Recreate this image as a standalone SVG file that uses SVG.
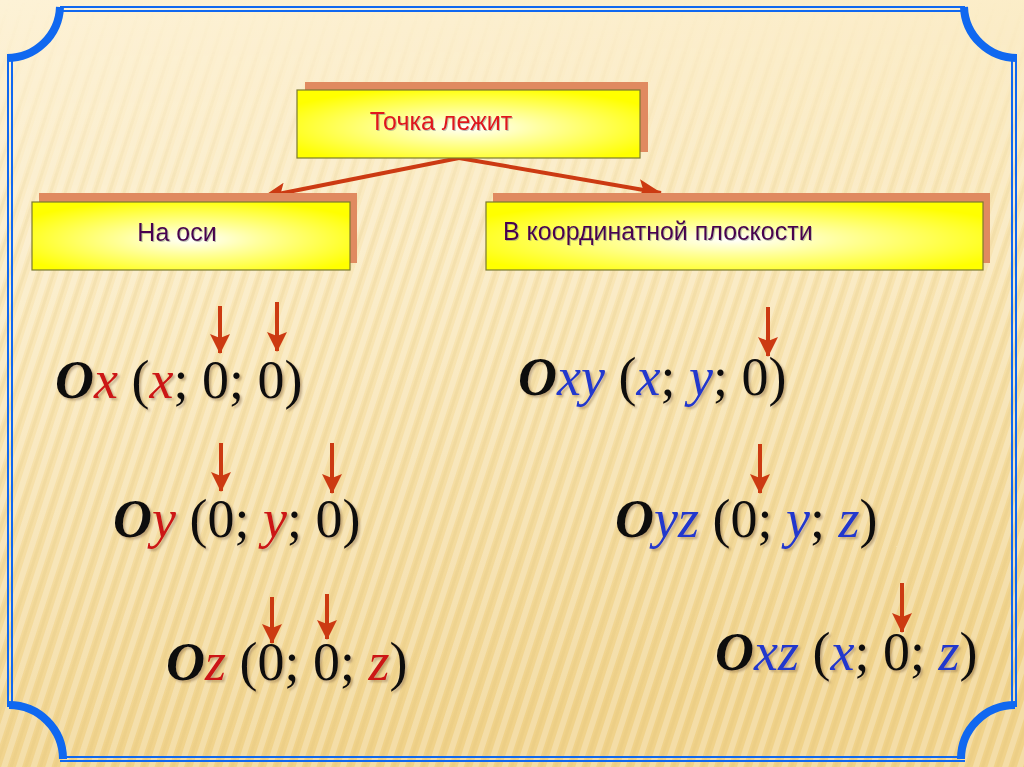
<svg xmlns="http://www.w3.org/2000/svg" width="1024" height="767" viewBox="0 0 1024 767">
<defs>
<style>
.box{stroke:#7a7a30;stroke-width:1.2}
.shadow{fill:#e08a60}
.lbl{font-family:"Liberation Sans",Arial,sans-serif;font-size:25px}
.f{font-family:"Liberation Serif","Times New Roman",serif;font-size:54px;fill:#111}
.O{font-style:italic;font-weight:bold}
.vr{font-style:italic;fill:#cc1515}
.vb{font-style:italic;fill:#2038cc}
.conn{stroke:#cc3a12;stroke-width:4;fill:none}
.dn{stroke:#cc3a12;stroke-width:4;fill:none}
.frame{stroke:#1068f0;fill:none}
</style>
<linearGradient id="bg" x1="0" y1="0" x2="0.2" y2="1">
<stop offset="0" stop-color="#fdf2d6"/>
<stop offset="0.45" stop-color="#f9e6b6"/>
<stop offset="1" stop-color="#f0d28a"/>
</linearGradient>
<linearGradient id="fade" x1="0" y1="0" x2="0" y2="1">
<stop offset="0" stop-color="#fff" stop-opacity="0"/>
<stop offset="0.3" stop-color="#fff" stop-opacity="1"/>
<stop offset="1" stop-color="#fff" stop-opacity="1"/>
</linearGradient>
<mask id="m"><rect width="1024" height="767" fill="url(#fade)"/></mask>
<pattern id="stripes" width="14" height="14" patternUnits="userSpaceOnUse" patternTransform="rotate(18)">
<rect width="6" height="14" fill="#ffffff" opacity="0.25"/>
<rect x="8" width="3" height="14" fill="#d8b870" opacity="0.15"/>
</pattern>
<radialGradient id="yel" cx="0.5" cy="0.55" r="0.6">
<stop offset="0" stop-color="#ffffff"/>
<stop offset="0.35" stop-color="#ffffa0"/>
<stop offset="1" stop-color="#ffff00"/>
</radialGradient>
<marker id="ah" markerUnits="userSpaceOnUse" markerWidth="24" markerHeight="20" refX="23" refY="10" orient="auto">
<path d="M0,0 L24,10 L0,20 L5,10 z" fill="#cc3a12"/>
</marker>
<marker id="ahs" markerUnits="userSpaceOnUse" markerWidth="20" markerHeight="20" refX="19" refY="10" orient="auto">
<path d="M0,0 L20,10 L0,20 L4,10 z" fill="#cc3a12"/>
</marker>
<filter id="ts" x="-5%" y="-10%" width="110%" height="130%">
<feDropShadow dx="2" dy="2" stdDeviation="1" flood-color="#806040" flood-opacity="0.45"/>
</filter>
<filter id="ls" x="-5%" y="-20%" width="110%" height="140%">
<feDropShadow dx="1" dy="1" stdDeviation="0.6" flood-color="#808080" flood-opacity="0.5"/>
</filter>
</defs>

<rect width="1024" height="767" fill="url(#bg)"/>
<rect width="1024" height="767" fill="url(#stripes)" mask="url(#m)"/>

<g id="frame">
<path class="frame" stroke-width="2" d="M60,7 H965 M60,11 H965"/>
<path class="frame" stroke-width="2" d="M60,757 H965 M60,761 H965"/>
<path class="frame" stroke-width="2" d="M8,58 V707 M12,58 V707"/>
<path class="frame" stroke-width="2" d="M1012,58 V707 M1016,58 V707"/>
<path class="frame" stroke-width="8" d="M60,7 A53,53 0 0 1 7,58"/>
<path class="frame" stroke-width="8" d="M964,7 A53,53 0 0 0 1017,58"/>
<path class="frame" stroke-width="8" d="M9,705 A54,54 0 0 1 63,759"/>
<path class="frame" stroke-width="8" d="M1015,705 A54,54 0 0 0 961,759"/>
</g>

<g id="connectors">
<line class="conn" x1="459" y1="158" x2="263" y2="197" marker-end="url(#ah)"/>
<line class="conn" x1="459" y1="158" x2="661" y2="193" marker-end="url(#ah)"/>
<line class="dn" x1="220" y1="306" x2="220" y2="353" marker-end="url(#ahs)"/>
<line class="dn" x1="277" y1="302" x2="277" y2="351" marker-end="url(#ahs)"/>
<line class="dn" x1="221" y1="443" x2="221" y2="491" marker-end="url(#ahs)"/>
<line class="dn" x1="332" y1="443" x2="332" y2="493" marker-end="url(#ahs)"/>
<line class="dn" x1="272" y1="597" x2="272" y2="643" marker-end="url(#ahs)"/>
<line class="dn" x1="327" y1="594" x2="327" y2="639" marker-end="url(#ahs)"/>
<line class="dn" x1="768" y1="307" x2="768" y2="356" marker-end="url(#ahs)"/>
<line class="dn" x1="760" y1="444" x2="760" y2="493" marker-end="url(#ahs)"/>
<line class="dn" x1="902" y1="583" x2="902" y2="632" marker-end="url(#ahs)"/>
</g>

<g id="node-top">
<rect class="shadow" x="305" y="82" width="343" height="70"/>
<rect class="box" x="297" y="90" width="343" height="68" fill="url(#yel)"/>
<text class="lbl" x="441" y="130" text-anchor="middle" fill="#e0141c" filter="url(#ls)">Точка лежит</text>
</g>

<g id="node-axis">
<rect class="shadow" x="39" y="193" width="318" height="70"/>
<rect class="box" x="32" y="202" width="318" height="68" fill="url(#yel)"/>
<text class="lbl" x="177" y="241" text-anchor="middle" fill="#4a0050" filter="url(#ls)">На оси</text>
</g>

<g id="node-plane">
<rect class="shadow" x="493" y="193" width="497" height="70"/>
<rect class="box" x="486" y="202" width="497" height="68" fill="url(#yel)"/>
<text class="lbl" x="503" y="240" fill="#4a0050" filter="url(#ls)">В координатной плоскости</text>
</g>

<g id="formula-ox" filter="url(#ts)">
<text class="f" x="55" y="398"><tspan class="O">O</tspan><tspan class="vr">x</tspan> (<tspan class="vr">x</tspan>; 0; 0)</text>
</g>
<g id="formula-oy" filter="url(#ts)">
<text class="f" x="113" y="537"><tspan class="O">O</tspan><tspan class="vr">y</tspan> (0; <tspan class="vr">y</tspan>; 0)</text>
</g>
<g id="formula-oz" filter="url(#ts)">
<text class="f" x="166" y="680"><tspan class="O">O</tspan><tspan class="vr">z</tspan> (0; 0; <tspan class="vr">z</tspan>)</text>
</g>
<g id="formula-oxy" filter="url(#ts)">
<text class="f" x="518" y="395"><tspan class="O">O</tspan><tspan class="vb">xy</tspan> (<tspan class="vb">x</tspan>; <tspan class="vb">y</tspan>; 0)</text>
</g>
<g id="formula-oyz" filter="url(#ts)">
<text class="f" x="615" y="537"><tspan class="O">O</tspan><tspan class="vb">yz</tspan> (0; <tspan class="vb">y</tspan>; <tspan class="vb">z</tspan>)</text>
</g>
<g id="formula-oxz" filter="url(#ts)">
<text class="f" x="715" y="670"><tspan class="O">O</tspan><tspan class="vb">xz</tspan> (<tspan class="vb">x</tspan>; 0; <tspan class="vb">z</tspan>)</text>
</g>
</svg>
